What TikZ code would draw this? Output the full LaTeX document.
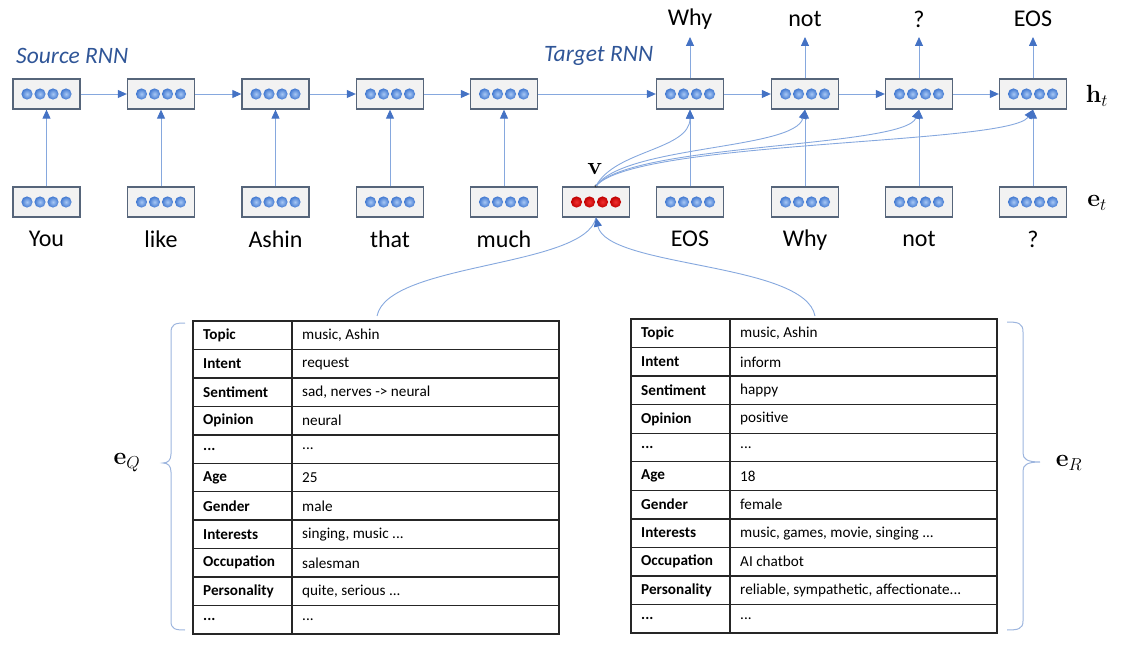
\documentclass[tikz,border=0pt]{standalone}
\usepackage[no-math]{fontspec}
\setmainfont{Carlito}
\usetikzlibrary{arrows.meta}
\definecolor{lineblue}{HTML}{86A8DE}
\definecolor{tipblue}{HTML}{4472C4}
\definecolor{txtblue}{HTML}{2F5597}
\definecolor{boxedge}{HTML}{56657A}
\definecolor{bracecol}{HTML}{9DB5DE}
\definecolor{ballin}{HTML}{A8C8F5}
\definecolor{ballout}{HTML}{4178D0}
\definecolor{redin}{HTML}{F03030}
\definecolor{redout}{HTML}{C00000}
\begin{document}
\begin{tikzpicture}[x=1pt,y=-1pt,
  cell/.style={draw=boxedge, line width=1.3pt, fill=gray!10, minimum width=67pt, minimum height=30pt, inner sep=0pt},
  conn/.style={draw=lineblue, line width=0.9pt, -{Triangle[length=9pt,width=8pt,color=tipblue,fill=tipblue]}},
  plain/.style={draw=lineblue, line width=0.9pt},
  word/.style={font=\fontsize{24}{28}\selectfont, inner sep=0pt},
  rnn/.style={font=\fontsize{23.5}{27}\selectfont\itshape, text=txtblue, inner sep=0pt, anchor=west},
  math/.style={font=\fontsize{27}{31}\selectfont, inner sep=0pt},
  tk/.style={font=\fontsize{15.2}{18}\selectfont\bfseries, inner sep=0pt, anchor=west},
  tv/.style={font=\fontsize{15.2}{18}\selectfont, inner sep=0pt, anchor=west},
  tbl/.style={draw=black!85, line width=1.4pt},
  brace/.style={draw=bracecol, line width=1pt}
]
\useasboundingbox (0,0) rectangle (1125,647);

% top (hidden) row
\node[cell] (h1) at (46.5,94) {};
\node[cell] (h2) at (161,94) {};
\node[cell] (h3) at (275.5,94) {};
\node[cell] (h4) at (390,94) {};
\node[cell] (h5) at (504,94) {};
\node[cell] (h6) at (690,94) {};
\node[cell] (h7) at (805,94) {};
\node[cell] (h8) at (919,94) {};
\node[cell] (h9) at (1033,94) {};
% bottom (embedding) row
\node[cell] (e1) at (46.5,202) {};
\node[cell] (e2) at (161,202) {};
\node[cell] (e3) at (275.5,202) {};
\node[cell] (e4) at (390,202) {};
\node[cell] (e5) at (504,202) {};
\node[cell] (vv) at (596,202) {};
\node[cell] (e6) at (690,202) {};
\node[cell] (e7) at (805,202) {};
\node[cell] (e8) at (919,202) {};
\node[cell] (e9) at (1033,202) {};

\foreach \n in {h1,h2,h3,h4,h5,h6,h7,h8,h9,e1,e2,e3,e4,e5,e6,e7,e8,e9}{
  \foreach \dx in {-19.5,-6.5,6.5,19.5}
    \shade[inner color=ballin, outer color=ballout] ([xshift=\dx pt]\n.center) circle (5.6pt);
}
\foreach \dx in {-19.5,-6.5,6.5,19.5}
  \shade[inner color=redin, outer color=redout] ([xshift=\dx pt]vv.center) circle (5.6pt);

% words
\node[word] (w1) at (46.5,239) {You};
\node[word] (w2) at (161,239) {like};
\node[word] (w3) at (275.5,239) {Ashin};
\node[word] (w4) at (390,239) {that};
\node[word] (w5) at (504,239) {much};
\node[word] (w6) at (690,239) {EOS};
\node[word] (w7) at (805,240) {Why};
\node[word] (w8) at (919,239) {not};
\node[word] (w9) at (1033,239) {?};

\node[word] (o6) at (690,19) {Why};
\node[word] (o7) at (805,19) {not};
\node[word] (o8) at (919,19) {?};
\node[word] (o9) at (1033,19) {EOS};

\coordinate (t6) at (690,37);
\coordinate (t7) at (805,37);
\coordinate (t8) at (919,37);
\coordinate (t9) at (1033,37);

\node[rnn] (src) at (16,56) {Source RNN};
\node[rnn] (tgt) at (544,56) {Target RNN};

\node[math] (ht) at (1097,96) {$\mathbf{h}_t$};
\node[math] (et) at (1097,203) {$\mathbf{e}_t$};
\node[math] (vl) at (595,169) {$\mathbf{v}$};

% horizontal recurrences
\draw[conn] (h1) -- (h2);
\draw[conn] (h2) -- (h3);
\draw[conn] (h3) -- (h4);
\draw[conn] (h4) -- (h5);
\draw[conn] (h5) -- (h6);
\draw[conn] (h6) -- (h7);
\draw[conn] (h7) -- (h8);
\draw[conn] (h8) -- (h9);
% vertical
\foreach \i in {1,...,9}{
  \draw[conn] (e\i) -- (h\i);
}
\foreach \i in {6,...,9}{
  \draw[conn] (h\i) -- (t\i);
}

% curves from v
\coordinate (vt) at (596,186);
\fill[black!80] (vt) circle (1.6pt);
\draw[conn] (vt) .. controls (615,150) and (690,150) .. (h6.south);
\draw[conn] (vt) .. controls (625,145) and (795,150) .. (h7.south);
\draw[conn] (vt) .. controls (630,143) and (905,148) .. (h8.south);
\draw[conn] (vt) .. controls (635,140) and (1010,145) .. (h9.south);

% tables
\def\rh{28.45}
\draw[tbl] (193,321) rectangle (559,634);
\draw[tbl] (292,321) -- (292,634);
\foreach \i in {1,...,10}{
  \draw[tbl] (193,321+\i*\rh) -- (559,321+\i*\rh);
}
\foreach \k/\v [count=\i from 0] in {Topic/{music, Ashin},Intent/request,Sentiment/{sad, nerves -> neural},Opinion/neural,{...}/{...},Age/25,Gender/male,Interests/{singing, music ...},Occupation/salesman,Personality/{quite, serious ...},{...}/{...}}{
  \node[tk] (lk\i) at (203,321+\i*\rh+0.5*\rh) {\k};
  \node[tv] (lv\i) at (302,321+\i*\rh+0.5*\rh) {\v};
}
\def\rr{28.55}
\draw[tbl] (631,319) rectangle (997,633);
\draw[tbl] (730,319) -- (730,633);
\foreach \i in {1,...,10}{
  \draw[tbl] (631,319+\i*\rr) -- (997,319+\i*\rr);
}
\foreach \k/\v [count=\i from 0] in {Topic/{music, Ashin},Intent/inform,Sentiment/happy,Opinion/positive,{...}/{...},Age/18,Gender/female,Interests/{music, games, movie, singing ...},Occupation/{AI chatbot},Personality/{reliable, sympathetic, affectionate...},{...}/{...}}{
  \node[tk] (rk\i) at (641,319+\i*\rr+0.5*\rr) {\k};
  \node[tv] (rv\i) at (740,319+\i*\rr+0.5*\rr) {\v};
}

% curves from tables into v
\coordinate (lq) at (377,316);
\coordinate (rq) at (815,316);
\draw[plain] (lq) .. controls (388,262) and (585,268) .. (vv.south);
\draw[conn] (rq) .. controls (805,262) and (607,268) .. (vv.south);

% braces
\draw[brace] (185,323) .. controls (175,323) and (171,324) .. (171,333) -- (171,454)
  .. controls (171,460) and (168,463) .. (163,463)
  .. controls (168,463) and (171,466) .. (171,472) -- (171,621)
  .. controls (171,629) and (175,630) .. (185,630);
\draw[brace] (1007,322) .. controls (1018,322) and (1023,323) .. (1023,332) -- (1023,453)
  .. controls (1023,459) and (1027,462) .. (1040,462)
  .. controls (1027,462) and (1023,465) .. (1023,471) -- (1023,621)
  .. controls (1023,629) and (1018,630) .. (1007,630);

\node[math] (eq) at (127,463) {$\mathbf{e}_Q$};
\node[math] (er) at (1069,463) {$\mathbf{e}_R$};
\end{tikzpicture}
\end{document}
